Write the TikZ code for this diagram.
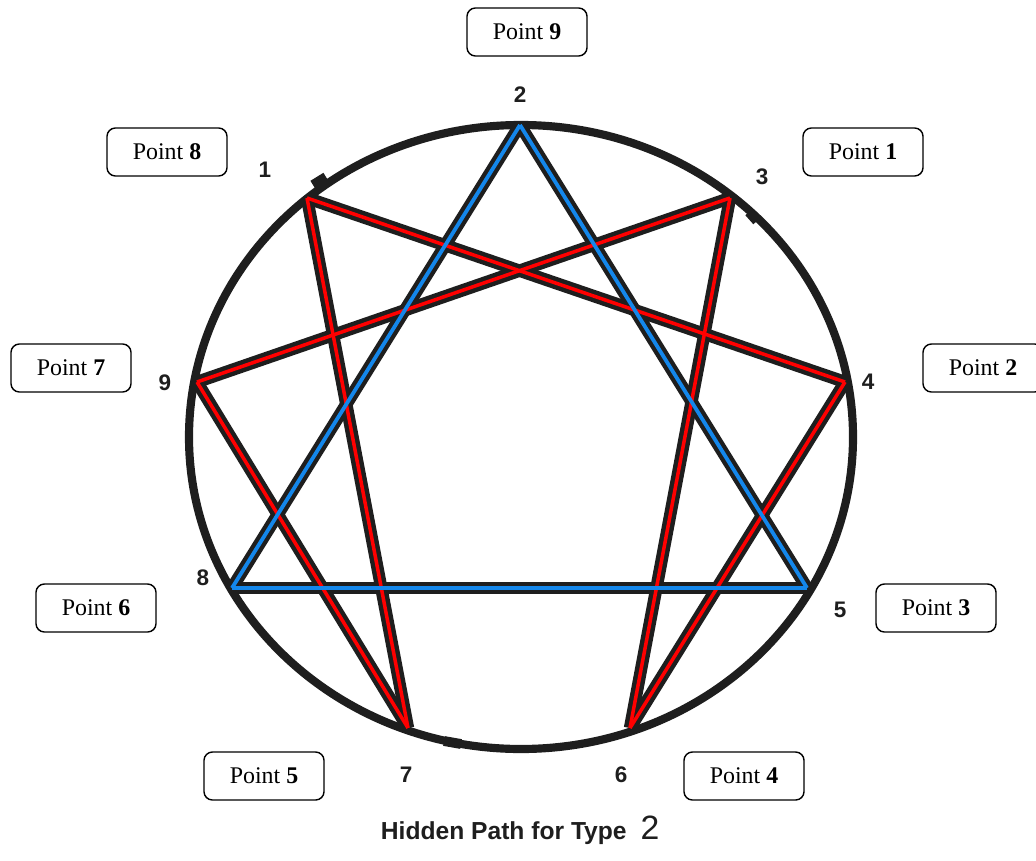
\documentclass[tikz,border=0pt]{standalone}
\usepackage{fontspec}
\setmainfont{Liberation Serif}
\newfontfamily\digitfont{Liberation Sans}
\usetikzlibrary{positioning}
\definecolor{pathred}{RGB}{255,0,0}
\definecolor{pathblue}{RGB}{20,135,235}
\definecolor{rimgray}{RGB}{30,30,30}
\tikzset{
    pointbox/.style = {rectangle, rounded corners=6pt, draw=black, line width=1pt, fill=white, minimum width=3cm, minimum height=1.2cm, font=\fontsize{17}{20}\selectfont},
    numlabel/.style = {font=\digitfont\bfseries\fontsize{16}{18}\selectfont, text=rimgray},
    edgek/.style = {-, line width=8.8pt, rimgray},
    edger/.style = {-, line width=2.5pt, pathred},
    edgeb/.style = {-, line width=2.7pt, pathblue},
    rim/.style = {line width=5.8pt, rimgray},
}

\begin{document}
\begin{tikzpicture}[x=0.025cm, y=-0.025cm]
\useasboundingbox (0,0) rectangle (1036,860);

% circle
\draw[rim] (521,437) ellipse [x radius=332, y radius=312];
\draw[rim, line width=7pt] (313,185) -- (326,177);
\draw[rim, line width=7pt] (749,212) -- (757,221);
\draw[rim, line width=7pt] (444,741) -- (461,744);

% corners of the figure
\coordinate (2) at (520,125);
\coordinate (1) at (307,198);
\coordinate (3) at (730,198);
\coordinate (9) at (197,382);
\coordinate (4) at (845,382);
\coordinate (8) at (232,588);
\coordinate (5) at (807,588);
\coordinate (7) at (408,728);
\coordinate (6) at (630,728);

% black under-lines
\foreach \a/\b in {2/5, 5/8, 8/2, 1/4, 4/6, 6/3, 3/9, 9/7, 7/1}
    \draw[edgek] (\a) -- (\b);
% hidden path
\foreach \a/\b in {1/4, 4/6, 6/3, 3/9, 9/7, 7/1}
    \draw[edger] (\a) -- (\b);
\foreach \a/\b in {2/5, 5/8, 8/2}
    \draw[edgeb] (\a) -- (\b);

% numbers
\node[numlabel] at (520, 95) (n2) {2};
\node[numlabel] at (265,170) (n1) {1};
\node[numlabel] at (762,177) (n3) {3};
\node[numlabel] at (165,383) (n9) {9};
\node[numlabel] at (868,382) (n4) {4};
\node[numlabel] at (203,578) (n8) {8};
\node[numlabel] at (840,610) (n5) {5};
\node[numlabel] at (406,775) (n7) {7};
\node[numlabel] at (621,775) (n6) {6};

% boxes
\node[pointbox] at (527, 32) (p9) {Point \textbf{9}};
\node[pointbox] at (167,152) (p8) {Point \textbf{8}};
\node[pointbox] at (863,152) (p1) {Point \textbf{1}};
\node[pointbox] at ( 71,368) (p7) {Point \textbf{7}};
\node[pointbox] at (983,368) (p2) {Point \textbf{2}};
\node[pointbox] at ( 96,608) (p6) {Point \textbf{6}};
\node[pointbox] at (936,608) (p3) {Point \textbf{3}};
\node[pointbox] at (264,776) (p5) {Point \textbf{5}};
\node[pointbox] at (744,776) (p4) {Point \textbf{4}};

% title
\node[anchor=west, font=\digitfont, text=rimgray] at (376,830) (title)
    {{\bfseries\fontsize{17.5}{20}\selectfont Hidden Path for Type}\hspace{10pt}{\fontsize{24}{26}\selectfont 2}};

\end{tikzpicture}
\end{document}
